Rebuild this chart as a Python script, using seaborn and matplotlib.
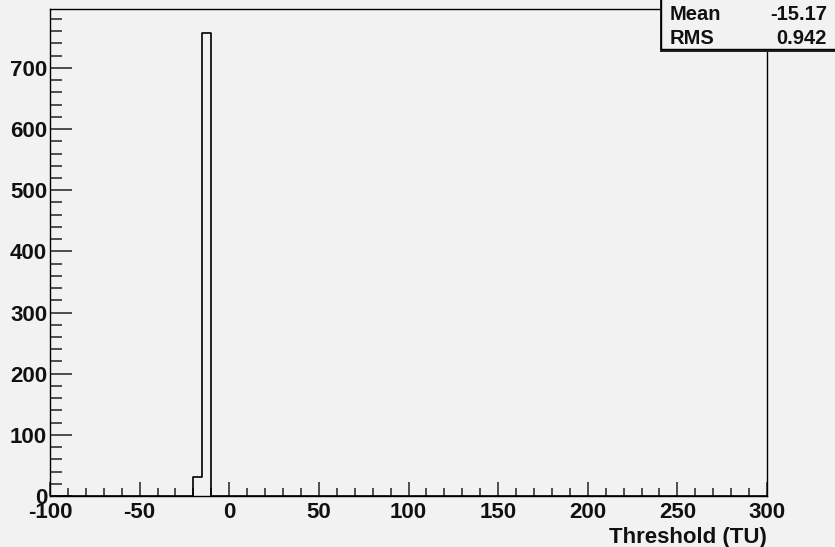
import numpy as np
import pandas as pd
import matplotlib
matplotlib.use("Agg")
import matplotlib.pyplot as plt
from matplotlib.ticker import MultipleLocator
from matplotlib.patches import Rectangle
import seaborn as sns

# histogram content (only non-empty bins, width 5 TU)
bin_lefts = [-20, -15]
counts = [31, 757]
bin_width = 5
x_range = (-100, 300)
stat_names = ["Mean", "RMS"]
stat_values = ["-15.17", "0.942"]

sns.set_style("ticks")
plt.rcParams['font.family'] = ['Liberation Sans', 'DejaVu Sans']
plt.rcParams['axes.unicode_minus'] = False

bg = "#f2f2f2"
txt = "#111111"
data = pd.DataFrame({"x": np.array(bin_lefts) + bin_width / 2, "w": counts})

fig = plt.figure(figsize=(8.35, 5.47), dpi=100, facecolor=bg)
ax = fig.add_axes([50 / 835, 1 - 496 / 547, 717 / 835, 487 / 547])
ax.set_facecolor(bg)

nbins = int((x_range[1] - x_range[0]) / bin_width)
sns.histplot(data=data, x="x", weights="w", bins=nbins, binrange=x_range,
             element="step", fill=False, color="black", linewidth=1.2, ax=ax)

ax.set_xlim(*x_range)
ax.set_ylim(0, max(counts) * 1.052)
ax.xaxis.set_major_locator(MultipleLocator(50))
ax.xaxis.set_minor_locator(MultipleLocator(10))
ax.yaxis.set_major_locator(MultipleLocator(100))
ax.yaxis.set_minor_locator(MultipleLocator(20))

for s in ax.spines.values():
    s.set_visible(True)
    s.set_color("black")
    s.set_linewidth(1.0)

ax.tick_params(axis="both", which="both", direction="in", color="#333333",
               width=1.2, labelsize=16, labelcolor=txt, top=False, right=False)
ax.tick_params(axis="x", which="major", length=10, pad=4)
ax.tick_params(axis="x", which="minor", length=5.5)
ax.tick_params(axis="y", which="major", length=16, pad=2)
ax.tick_params(axis="y", which="minor", length=8.5)
for lbl in ax.get_xticklabels() + ax.get_yticklabels():
    lbl.set_fontweight("bold")

ax.set_ylabel("")
ax.set_xlabel("Threshold (TU)", loc="right", fontsize=16, fontweight="bold",
              color=txt, labelpad=3)

# stats box (clipped at the top-right corner)
fx, fy = 661 / 835, 1 - 49 / 547
fig.patches.append(Rectangle((fx - 1.5 / 835, fy - 2.5 / 547), 1.0, 1.0,
                             transform=fig.transFigure, facecolor="#222222",
                             edgecolor="none", zorder=5))
fig.patches.append(Rectangle((fx, fy), 1.0, 1.0, transform=fig.transFigure,
                             facecolor=bg, edgecolor="black", linewidth=1.0,
                             zorder=6))
for i, (name, val) in enumerate(zip(stat_names, stat_values)):
    y = 1 - (15 + i * 23) / 547
    fig.text(670 / 835, y, name, ha="left", va="center", fontsize=14.5,
             fontweight="bold", color=txt, zorder=7)
    fig.text(827 / 835, y, val, ha="right", va="center", fontsize=14.5,
             fontweight="bold", color=txt, zorder=7)

fig.savefig("out.png", dpi=100, facecolor=bg)
